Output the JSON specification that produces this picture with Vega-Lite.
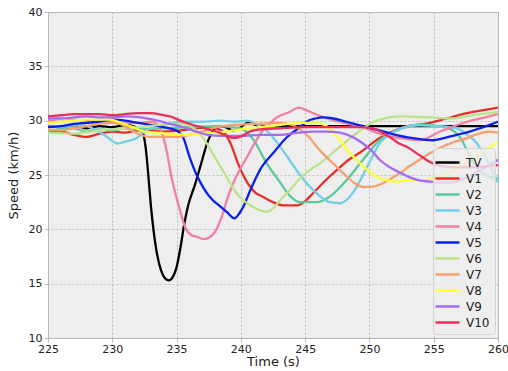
{
  "$schema": "https://vega.github.io/schema/vega-lite/v6.json",
  "width": 450,
  "height": 326,
  "autosize": "none",
  "padding": {"left": 48, "top": 12, "right": 10, "bottom": 33},
  "background": "white",
  "config": {
    "font": "DejaVu Sans",
    "view": {"fill": "#eeeeee", "stroke": "#bcbcbc", "strokeWidth": 1},
    "axis": {
      "domain": false,
      "grid": true,
      "gridColor": "#b2b2b2",
      "gridDash": [2, 2],
      "gridWidth": 0.8,
      "ticks": true,
      "tickColor": "#bcbcbc",
      "tickSize": 4,
      "labelFont": "DejaVu Sans",
      "labelFontSize": 11,
      "labelColor": "#222222",
      "labelOverlap": false,
      "labelFlush": false,
      "titleFont": "DejaVu Sans",
      "titleFontSize": 13,
      "titleFontWeight": "normal",
      "titleColor": "#222222"
    },
    "legend": {
      "labelFont": "DejaVu Sans",
      "labelFontSize": 12,
      "labelColor": "#222222"
    }
  },
  "datasets": {
    "speeds": [
      {"v": "TV", "t": 225, "s": 29.5}, {"v": "TV", "t": 226, "s": 29.4}, {"v": "TV", "t": 227, "s": 29.6}, {"v": "TV", "t": 228, "s": 29.3}, {"v": "TV", "t": 229, "s": 29.5}, {"v": "TV", "t": 230, "s": 29.4}, {"v": "TV", "t": 231, "s": 29.6}, {"v": "TV", "t": 231.8, "s": 29.4}, {"v": "TV", "t": 232.3, "s": 29.1}, {"v": "TV", "t": 232.6, "s": 27.5}, {"v": "TV", "t": 232.8, "s": 25.0}, {"v": "TV", "t": 233.0, "s": 22.2}, {"v": "TV", "t": 233.2, "s": 20.0}, {"v": "TV", "t": 233.5, "s": 17.6}, {"v": "TV", "t": 233.8, "s": 16.2}, {"v": "TV", "t": 234.1, "s": 15.5}, {"v": "TV", "t": 234.4, "s": 15.3}, {"v": "TV", "t": 234.7, "s": 15.6}, {"v": "TV", "t": 235.0, "s": 16.5}, {"v": "TV", "t": 235.3, "s": 18.3}, {"v": "TV", "t": 235.6, "s": 20.5}, {"v": "TV", "t": 235.9, "s": 22.2}, {"v": "TV", "t": 236.4, "s": 24.0}, {"v": "TV", "t": 236.9, "s": 26.0}, {"v": "TV", "t": 237.4, "s": 28.0}, {"v": "TV", "t": 237.8, "s": 29.0}, {"v": "TV", "t": 238.2, "s": 29.5}, {"v": "TV", "t": 238.8, "s": 29.4}, {"v": "TV", "t": 239.4, "s": 29.1}, {"v": "TV", "t": 240.0, "s": 29.4}, {"v": "TV", "t": 240.5, "s": 29.8}, {"v": "TV", "t": 241.2, "s": 29.6}, {"v": "TV", "t": 242, "s": 29.5}, {"v": "TV", "t": 245, "s": 29.5}, {"v": "TV", "t": 250, "s": 29.5}, {"v": "TV", "t": 255, "s": 29.5}, {"v": "TV", "t": 260, "s": 29.5},

      {"v": "V1", "t": 225, "s": 29.0}, {"v": "V1", "t": 226, "s": 29.0}, {"v": "V1", "t": 227, "s": 28.7}, {"v": "V1", "t": 228, "s": 28.5}, {"v": "V1", "t": 229, "s": 28.8}, {"v": "V1", "t": 230, "s": 29.0}, {"v": "V1", "t": 231, "s": 28.9}, {"v": "V1", "t": 232, "s": 29.1}, {"v": "V1", "t": 234, "s": 29.0}, {"v": "V1", "t": 236, "s": 29.2}, {"v": "V1", "t": 237.5, "s": 29.4}, {"v": "V1", "t": 238.1, "s": 29.3}, {"v": "V1", "t": 238.7, "s": 28.9}, {"v": "V1", "t": 239.2, "s": 27.9}, {"v": "V1", "t": 239.8, "s": 26.0}, {"v": "V1", "t": 240.5, "s": 24.3}, {"v": "V1", "t": 241.1, "s": 23.4}, {"v": "V1", "t": 241.7, "s": 23.0}, {"v": "V1", "t": 242.5, "s": 22.5}, {"v": "V1", "t": 243.3, "s": 22.2}, {"v": "V1", "t": 244.4, "s": 22.2}, {"v": "V1", "t": 245.0, "s": 22.6}, {"v": "V1", "t": 245.6, "s": 23.3}, {"v": "V1", "t": 246.5, "s": 24.4}, {"v": "V1", "t": 247.5, "s": 25.5}, {"v": "V1", "t": 248.4, "s": 26.4}, {"v": "V1", "t": 249.3, "s": 27.1}, {"v": "V1", "t": 250.8, "s": 28.4}, {"v": "V1", "t": 252.4, "s": 29.3}, {"v": "V1", "t": 254.7, "s": 29.8}, {"v": "V1", "t": 256, "s": 30.2}, {"v": "V1", "t": 257.6, "s": 30.7}, {"v": "V1", "t": 259, "s": 31.0}, {"v": "V1", "t": 260, "s": 31.2},

      {"v": "V2", "t": 225, "s": 29.1}, {"v": "V2", "t": 226, "s": 29.2}, {"v": "V2", "t": 227, "s": 29.3}, {"v": "V2", "t": 228, "s": 29.0}, {"v": "V2", "t": 229, "s": 29.2}, {"v": "V2", "t": 230, "s": 29.1}, {"v": "V2", "t": 231, "s": 29.3}, {"v": "V2", "t": 232, "s": 29.2}, {"v": "V2", "t": 234, "s": 29.3}, {"v": "V2", "t": 236, "s": 29.4}, {"v": "V2", "t": 238, "s": 29.5}, {"v": "V2", "t": 240, "s": 29.3}, {"v": "V2", "t": 240.5, "s": 28.9}, {"v": "V2", "t": 241, "s": 28.2}, {"v": "V2", "t": 242, "s": 26.1}, {"v": "V2", "t": 243, "s": 24.4}, {"v": "V2", "t": 243.8, "s": 23.1}, {"v": "V2", "t": 244.6, "s": 22.5}, {"v": "V2", "t": 245.9, "s": 22.5}, {"v": "V2", "t": 246.9, "s": 23.0}, {"v": "V2", "t": 248.2, "s": 24.5}, {"v": "V2", "t": 249.5, "s": 26.4}, {"v": "V2", "t": 250.8, "s": 28.2}, {"v": "V2", "t": 252.1, "s": 29.1}, {"v": "V2", "t": 254, "s": 29.6}, {"v": "V2", "t": 255.5, "s": 29.5}, {"v": "V2", "t": 256.6, "s": 29.0}, {"v": "V2", "t": 257.2, "s": 28.2}, {"v": "V2", "t": 257.6, "s": 27.2}, {"v": "V2", "t": 258.4, "s": 25.6}, {"v": "V2", "t": 259.2, "s": 24.9}, {"v": "V2", "t": 260, "s": 24.7},

      {"v": "V3", "t": 225, "s": 29.5}, {"v": "V3", "t": 226, "s": 29.4}, {"v": "V3", "t": 227, "s": 29.6}, {"v": "V3", "t": 228, "s": 29.5}, {"v": "V3", "t": 228.8, "s": 29.1}, {"v": "V3", "t": 229.6, "s": 28.5}, {"v": "V3", "t": 230.4, "s": 27.9}, {"v": "V3", "t": 231.1, "s": 28.1}, {"v": "V3", "t": 231.9, "s": 28.4}, {"v": "V3", "t": 232.4, "s": 28.9}, {"v": "V3", "t": 233, "s": 29.3}, {"v": "V3", "t": 234, "s": 29.6}, {"v": "V3", "t": 235.5, "s": 29.9}, {"v": "V3", "t": 237, "s": 29.9}, {"v": "V3", "t": 238.5, "s": 30.0}, {"v": "V3", "t": 239.5, "s": 29.9}, {"v": "V3", "t": 240.5, "s": 30.0}, {"v": "V3", "t": 241.2, "s": 29.7}, {"v": "V3", "t": 242, "s": 29.1}, {"v": "V3", "t": 242.8, "s": 28.0}, {"v": "V3", "t": 243.6, "s": 26.7}, {"v": "V3", "t": 244.6, "s": 25.0}, {"v": "V3", "t": 245.9, "s": 23.3}, {"v": "V3", "t": 246.9, "s": 22.5}, {"v": "V3", "t": 247.7, "s": 22.4}, {"v": "V3", "t": 248.4, "s": 22.9}, {"v": "V3", "t": 248.9, "s": 23.7}, {"v": "V3", "t": 249.8, "s": 25.7}, {"v": "V3", "t": 250.8, "s": 27.9}, {"v": "V3", "t": 252.1, "s": 29.1}, {"v": "V3", "t": 253.9, "s": 29.6}, {"v": "V3", "t": 255, "s": 29.5}, {"v": "V3", "t": 256.3, "s": 29.4}, {"v": "V3", "t": 257, "s": 29.2}, {"v": "V3", "t": 257.6, "s": 28.7}, {"v": "V3", "t": 258.3, "s": 28.0}, {"v": "V3", "t": 258.9, "s": 26.9}, {"v": "V3", "t": 259.5, "s": 25.5}, {"v": "V3", "t": 260, "s": 24.3},

      {"v": "V4", "t": 225, "s": 30.0}, {"v": "V4", "t": 226, "s": 29.9}, {"v": "V4", "t": 227, "s": 30.1}, {"v": "V4", "t": 228, "s": 30.0}, {"v": "V4", "t": 229, "s": 29.9}, {"v": "V4", "t": 230, "s": 30.0}, {"v": "V4", "t": 231, "s": 29.8}, {"v": "V4", "t": 232, "s": 29.8}, {"v": "V4", "t": 233, "s": 29.9}, {"v": "V4", "t": 233.6, "s": 29.6}, {"v": "V4", "t": 234.1, "s": 27.9}, {"v": "V4", "t": 234.7, "s": 24.3}, {"v": "V4", "t": 235.3, "s": 21.6}, {"v": "V4", "t": 235.7, "s": 20.1}, {"v": "V4", "t": 236.1, "s": 19.5}, {"v": "V4", "t": 236.6, "s": 19.3}, {"v": "V4", "t": 237.1, "s": 19.1}, {"v": "V4", "t": 237.6, "s": 19.3}, {"v": "V4", "t": 238.0, "s": 19.8}, {"v": "V4", "t": 238.5, "s": 21.1}, {"v": "V4", "t": 239.0, "s": 23.0}, {"v": "V4", "t": 239.5, "s": 24.5}, {"v": "V4", "t": 240.5, "s": 26.7}, {"v": "V4", "t": 241.1, "s": 28.0}, {"v": "V4", "t": 241.7, "s": 29.1}, {"v": "V4", "t": 242.3, "s": 29.8}, {"v": "V4", "t": 242.8, "s": 30.3}, {"v": "V4", "t": 243.8, "s": 30.8}, {"v": "V4", "t": 244.5, "s": 31.2}, {"v": "V4", "t": 245.2, "s": 30.9}, {"v": "V4", "t": 246, "s": 30.5}, {"v": "V4", "t": 247, "s": 30.1}, {"v": "V4", "t": 248, "s": 29.8}, {"v": "V4", "t": 249.5, "s": 29.4}, {"v": "V4", "t": 250.3, "s": 29.0}, {"v": "V4", "t": 251.4, "s": 28.6}, {"v": "V4", "t": 252.4, "s": 28.4}, {"v": "V4", "t": 253.9, "s": 28.2}, {"v": "V4", "t": 255.5, "s": 29.0}, {"v": "V4", "t": 256.6, "s": 29.5}, {"v": "V4", "t": 257.6, "s": 29.9}, {"v": "V4", "t": 259, "s": 30.3}, {"v": "V4", "t": 260, "s": 30.6},

      {"v": "V5", "t": 225, "s": 29.4}, {"v": "V5", "t": 226, "s": 29.5}, {"v": "V5", "t": 227, "s": 29.7}, {"v": "V5", "t": 228, "s": 29.8}, {"v": "V5", "t": 229, "s": 29.9}, {"v": "V5", "t": 230, "s": 30.1}, {"v": "V5", "t": 231, "s": 30.0}, {"v": "V5", "t": 232, "s": 29.8}, {"v": "V5", "t": 233, "s": 29.6}, {"v": "V5", "t": 234, "s": 29.4}, {"v": "V5", "t": 235, "s": 29.1}, {"v": "V5", "t": 235.5, "s": 28.5}, {"v": "V5", "t": 236, "s": 26.7}, {"v": "V5", "t": 236.6, "s": 24.9}, {"v": "V5", "t": 237.1, "s": 23.8}, {"v": "V5", "t": 237.8, "s": 22.7}, {"v": "V5", "t": 238.3, "s": 22.2}, {"v": "V5", "t": 238.9, "s": 21.6}, {"v": "V5", "t": 239.5, "s": 21.0}, {"v": "V5", "t": 239.9, "s": 21.5}, {"v": "V5", "t": 240.2, "s": 22.1}, {"v": "V5", "t": 240.7, "s": 23.5}, {"v": "V5", "t": 241.5, "s": 25.5}, {"v": "V5", "t": 242.5, "s": 27.0}, {"v": "V5", "t": 243.6, "s": 28.5}, {"v": "V5", "t": 244.6, "s": 29.4}, {"v": "V5", "t": 245.1, "s": 29.9}, {"v": "V5", "t": 245.8, "s": 30.2}, {"v": "V5", "t": 246.4, "s": 30.3}, {"v": "V5", "t": 247.2, "s": 30.2}, {"v": "V5", "t": 248.2, "s": 29.9}, {"v": "V5", "t": 249.5, "s": 29.5}, {"v": "V5", "t": 250.8, "s": 29.1}, {"v": "V5", "t": 252, "s": 28.7}, {"v": "V5", "t": 253.4, "s": 28.4}, {"v": "V5", "t": 254.9, "s": 28.2}, {"v": "V5", "t": 255.8, "s": 28.4}, {"v": "V5", "t": 256.8, "s": 28.7}, {"v": "V5", "t": 257.8, "s": 29.0}, {"v": "V5", "t": 258.6, "s": 29.3}, {"v": "V5", "t": 259.3, "s": 29.6}, {"v": "V5", "t": 260, "s": 29.9},

      {"v": "V6", "t": 225, "s": 28.9}, {"v": "V6", "t": 227, "s": 28.8}, {"v": "V6", "t": 229, "s": 29.1}, {"v": "V6", "t": 231, "s": 29.3}, {"v": "V6", "t": 233, "s": 29.5}, {"v": "V6", "t": 234.5, "s": 29.7}, {"v": "V6", "t": 235.5, "s": 29.7}, {"v": "V6", "t": 236.3, "s": 29.3}, {"v": "V6", "t": 236.8, "s": 28.8}, {"v": "V6", "t": 237.3, "s": 28.0}, {"v": "V6", "t": 237.8, "s": 27.0}, {"v": "V6", "t": 238.4, "s": 25.8}, {"v": "V6", "t": 238.9, "s": 24.8}, {"v": "V6", "t": 239.4, "s": 23.8}, {"v": "V6", "t": 239.9, "s": 23.0}, {"v": "V6", "t": 240.5, "s": 22.4}, {"v": "V6", "t": 241.2, "s": 21.9}, {"v": "V6", "t": 242, "s": 21.6}, {"v": "V6", "t": 242.5, "s": 21.9}, {"v": "V6", "t": 243.0, "s": 22.6}, {"v": "V6", "t": 243.8, "s": 23.6}, {"v": "V6", "t": 244.6, "s": 24.7}, {"v": "V6", "t": 245.4, "s": 25.5}, {"v": "V6", "t": 246.2, "s": 26.1}, {"v": "V6", "t": 247, "s": 26.9}, {"v": "V6", "t": 247.7, "s": 27.6}, {"v": "V6", "t": 248.5, "s": 28.4}, {"v": "V6", "t": 249.3, "s": 29.1}, {"v": "V6", "t": 250, "s": 29.7}, {"v": "V6", "t": 250.8, "s": 30.1}, {"v": "V6", "t": 252.4, "s": 30.4}, {"v": "V6", "t": 254.7, "s": 30.3}, {"v": "V6", "t": 256.3, "s": 30.2}, {"v": "V6", "t": 258.1, "s": 30.5}, {"v": "V6", "t": 260, "s": 30.8},

      {"v": "V7", "t": 225, "s": 29.2}, {"v": "V7", "t": 226, "s": 29.1}, {"v": "V7", "t": 227, "s": 29.3}, {"v": "V7", "t": 228, "s": 29.5}, {"v": "V7", "t": 229, "s": 29.7}, {"v": "V7", "t": 230, "s": 29.8}, {"v": "V7", "t": 230.8, "s": 29.6}, {"v": "V7", "t": 231.5, "s": 29.1}, {"v": "V7", "t": 232.2, "s": 28.7}, {"v": "V7", "t": 232.9, "s": 28.5}, {"v": "V7", "t": 234, "s": 28.5}, {"v": "V7", "t": 235, "s": 28.5}, {"v": "V7", "t": 236, "s": 28.7}, {"v": "V7", "t": 237, "s": 29.0}, {"v": "V7", "t": 238.1, "s": 29.4}, {"v": "V7", "t": 239.5, "s": 29.6}, {"v": "V7", "t": 241, "s": 29.7}, {"v": "V7", "t": 243, "s": 29.8}, {"v": "V7", "t": 244, "s": 29.6}, {"v": "V7", "t": 244.6, "s": 29.2}, {"v": "V7", "t": 245.3, "s": 28.5}, {"v": "V7", "t": 245.9, "s": 27.6}, {"v": "V7", "t": 246.7, "s": 26.6}, {"v": "V7", "t": 247.5, "s": 25.7}, {"v": "V7", "t": 248.2, "s": 24.9}, {"v": "V7", "t": 248.8, "s": 24.3}, {"v": "V7", "t": 249.5, "s": 23.9}, {"v": "V7", "t": 250.1, "s": 23.9}, {"v": "V7", "t": 250.8, "s": 24.1}, {"v": "V7", "t": 251.6, "s": 24.6}, {"v": "V7", "t": 252.4, "s": 25.2}, {"v": "V7", "t": 253.1, "s": 25.8}, {"v": "V7", "t": 253.9, "s": 26.4}, {"v": "V7", "t": 254.7, "s": 27.0}, {"v": "V7", "t": 255.5, "s": 27.5}, {"v": "V7", "t": 256.5, "s": 28.0}, {"v": "V7", "t": 257.6, "s": 28.4}, {"v": "V7", "t": 258.5, "s": 28.8}, {"v": "V7", "t": 259.3, "s": 29.0}, {"v": "V7", "t": 260, "s": 28.9},

      {"v": "V8", "t": 225, "s": 29.8}, {"v": "V8", "t": 226, "s": 29.9}, {"v": "V8", "t": 227, "s": 30.0}, {"v": "V8", "t": 228, "s": 30.1}, {"v": "V8", "t": 229.8, "s": 30.1}, {"v": "V8", "t": 230.7, "s": 29.8}, {"v": "V8", "t": 231.6, "s": 29.4}, {"v": "V8", "t": 232.5, "s": 29.0}, {"v": "V8", "t": 233.3, "s": 28.9}, {"v": "V8", "t": 234.2, "s": 28.8}, {"v": "V8", "t": 235.8, "s": 28.7}, {"v": "V8", "t": 237, "s": 28.8}, {"v": "V8", "t": 238.2, "s": 28.9}, {"v": "V8", "t": 239.4, "s": 29.1}, {"v": "V8", "t": 240.5, "s": 29.3}, {"v": "V8", "t": 241.5, "s": 29.4}, {"v": "V8", "t": 243, "s": 29.6}, {"v": "V8", "t": 244.5, "s": 29.8}, {"v": "V8", "t": 245.9, "s": 29.8}, {"v": "V8", "t": 246.5, "s": 29.6}, {"v": "V8", "t": 246.9, "s": 29.3}, {"v": "V8", "t": 247.4, "s": 28.7}, {"v": "V8", "t": 247.9, "s": 27.9}, {"v": "V8", "t": 248.5, "s": 27.0}, {"v": "V8", "t": 249, "s": 26.4}, {"v": "V8", "t": 249.7, "s": 25.6}, {"v": "V8", "t": 250.6, "s": 24.8}, {"v": "V8", "t": 251.4, "s": 24.5}, {"v": "V8", "t": 252.1, "s": 24.4}, {"v": "V8", "t": 253, "s": 24.5}, {"v": "V8", "t": 253.9, "s": 24.5}, {"v": "V8", "t": 254.7, "s": 24.6}, {"v": "V8", "t": 255.5, "s": 24.9}, {"v": "V8", "t": 256.3, "s": 25.3}, {"v": "V8", "t": 257.2, "s": 25.9}, {"v": "V8", "t": 258.1, "s": 26.6}, {"v": "V8", "t": 259, "s": 27.3}, {"v": "V8", "t": 260, "s": 28.0},

      {"v": "V9", "t": 225, "s": 30.2}, {"v": "V9", "t": 226, "s": 30.2}, {"v": "V9", "t": 227, "s": 30.3}, {"v": "V9", "t": 228, "s": 30.4}, {"v": "V9", "t": 229, "s": 30.3}, {"v": "V9", "t": 230, "s": 30.3}, {"v": "V9", "t": 231, "s": 30.4}, {"v": "V9", "t": 232.2, "s": 30.3}, {"v": "V9", "t": 233.5, "s": 30.0}, {"v": "V9", "t": 234.5, "s": 29.7}, {"v": "V9", "t": 235.5, "s": 29.4}, {"v": "V9", "t": 236.5, "s": 29.0}, {"v": "V9", "t": 237.4, "s": 28.7}, {"v": "V9", "t": 238.5, "s": 28.6}, {"v": "V9", "t": 240, "s": 28.6}, {"v": "V9", "t": 241.5, "s": 28.7}, {"v": "V9", "t": 243, "s": 28.7}, {"v": "V9", "t": 244.5, "s": 28.9}, {"v": "V9", "t": 245.6, "s": 29.0}, {"v": "V9", "t": 246.7, "s": 29.0}, {"v": "V9", "t": 247.7, "s": 28.9}, {"v": "V9", "t": 248.5, "s": 28.6}, {"v": "V9", "t": 249.5, "s": 27.9}, {"v": "V9", "t": 250.2, "s": 27.2}, {"v": "V9", "t": 250.8, "s": 26.4}, {"v": "V9", "t": 251.6, "s": 25.7}, {"v": "V9", "t": 252.4, "s": 25.2}, {"v": "V9", "t": 253.1, "s": 24.8}, {"v": "V9", "t": 253.9, "s": 24.5}, {"v": "V9", "t": 254.7, "s": 24.4}, {"v": "V9", "t": 255.5, "s": 24.3}, {"v": "V9", "t": 256.3, "s": 24.3}, {"v": "V9", "t": 257.2, "s": 24.6}, {"v": "V9", "t": 258.1, "s": 25.1}, {"v": "V9", "t": 259, "s": 25.7}, {"v": "V9", "t": 260, "s": 26.4},

      {"v": "V10", "t": 225, "s": 30.4}, {"v": "V10", "t": 226, "s": 30.5}, {"v": "V10", "t": 227, "s": 30.6}, {"v": "V10", "t": 228, "s": 30.6}, {"v": "V10", "t": 229, "s": 30.6}, {"v": "V10", "t": 230, "s": 30.5}, {"v": "V10", "t": 231, "s": 30.6}, {"v": "V10", "t": 232, "s": 30.7}, {"v": "V10", "t": 233, "s": 30.7}, {"v": "V10", "t": 234, "s": 30.5}, {"v": "V10", "t": 234.5, "s": 30.4}, {"v": "V10", "t": 235.3, "s": 30.0}, {"v": "V10", "t": 236.3, "s": 29.6}, {"v": "V10", "t": 237.2, "s": 29.3}, {"v": "V10", "t": 238.1, "s": 29.0}, {"v": "V10", "t": 238.9, "s": 28.6}, {"v": "V10", "t": 239.5, "s": 28.4}, {"v": "V10", "t": 240.1, "s": 28.6}, {"v": "V10", "t": 240.7, "s": 29.0}, {"v": "V10", "t": 241.5, "s": 29.2}, {"v": "V10", "t": 243, "s": 29.3}, {"v": "V10", "t": 245, "s": 29.4}, {"v": "V10", "t": 247.7, "s": 29.4}, {"v": "V10", "t": 249, "s": 29.4}, {"v": "V10", "t": 250.3, "s": 29.3}, {"v": "V10", "t": 251, "s": 28.9}, {"v": "V10", "t": 251.7, "s": 28.4}, {"v": "V10", "t": 252.3, "s": 27.9}, {"v": "V10", "t": 252.9, "s": 27.6}, {"v": "V10", "t": 253.8, "s": 26.9}, {"v": "V10", "t": 254.7, "s": 26.2}, {"v": "V10", "t": 255.7, "s": 25.8}, {"v": "V10", "t": 256.8, "s": 25.7}, {"v": "V10", "t": 258, "s": 25.7}, {"v": "V10", "t": 259, "s": 25.8}, {"v": "V10", "t": 260, "s": 25.9}
    ]
  },
  "data": {"name": "speeds"},
  "mark": {"type": "line", "interpolate": "monotone", "strokeWidth": 2.3, "clip": true},
  "encoding": {
    "x": {
      "field": "t",
      "type": "quantitative",
      "title": "Time (s)",
      "scale": {"domain": [225, 260], "nice": false, "zero": false},
      "axis": {"values": [225, 230, 235, 240, 245, 250, 255, 260], "labelPadding": 1, "titlePadding": 1}
    },
    "y": {
      "field": "s",
      "type": "quantitative",
      "title": "Speed (km/h)",
      "scale": {"domain": [10, 40], "nice": false, "zero": false},
      "axis": {"values": [10, 15, 20, 25, 30, 35, 40], "labelPadding": 2, "titlePadding": 8}
    },
    "color": {
      "field": "v",
      "type": "nominal",
      "scale": {
        "domain": ["TV", "V1", "V2", "V3", "V4", "V5", "V6", "V7", "V8", "V9", "V10"],
        "range": ["#000000", "#e4302a", "#5cc99c", "#72d0e6", "#f07fa0", "#0a20e8", "#bde28c", "#f5a070", "#ffff3a", "#a46cf0", "#e8305e"]
      },
      "legend": {
        "title": null,
        "orient": "none",
        "legendX": 385,
        "legendY": 136,
        "symbolType": "M-1.5,0H1.5",
        "symbolSize": 256,
        "symbolStrokeWidth": 2.5,
        "symbolOffset": 0,
        "labelOffset": 9,
        "rowPadding": 0,
        "padding": 5,
        "fillColor": "rgba(238,238,238,0.8)",
        "strokeColor": "#d4d4d4",
        "cornerRadius": 3
      }
    }
  }
}
